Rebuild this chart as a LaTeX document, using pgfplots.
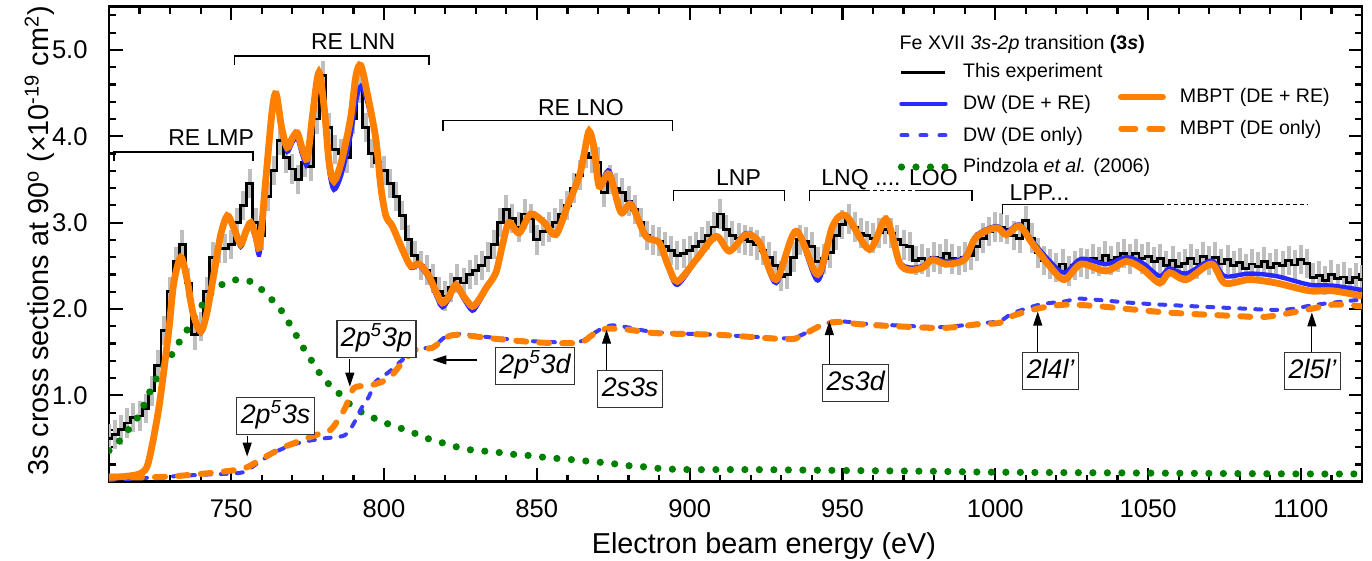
\documentclass[border=0pt]{standalone}
\usepackage{fontspec}
\setmainfont{Liberation Sans}
\usepackage{pgfplots}
\pgfplotsset{compat=1.18}
\usepackage{pgfplotstable}
\usetikzlibrary{arrows.meta}
\definecolor{mborange}{RGB}{255,128,0}
\definecolor{dwblue}{RGB}{40,40,255}
\definecolor{dwdash}{RGB}{60,60,255}
\definecolor{pgreen}{RGB}{0,128,0}
\definecolor{errgray}{RGB}{190,190,190}

\pgfplotstableread{
x y
710 0.50
712 0.55
714 0.60
716 0.68
718 0.74
720 0.76
722 0.85
724 1.05
726 1.35
728 1.75
730 2.20
732 2.55
734 2.75
736 2.30
738 1.70
740 1.80
742 2.20
744 2.60
746 2.70
748 2.70
750 2.75
752 3.00
754 3.20
756 3.45
758 3.00
760 2.85
762 3.30
764 3.60
766 3.95
768 3.75
770 3.62
772 3.50
774 3.70
776 3.65
778 4.20
780 4.70
782 4.10
784 3.85
786 3.80
788 3.75
790 4.20
792 4.55
794 4.10
796 3.80
798 3.70
800 3.60
802 3.45
804 3.30
806 3.08
808 2.80
810 2.62
812 2.50
814 2.45
816 2.35
818 2.20
820 2.15
822 2.25
824 2.35
826 2.30
828 2.40
830 2.45
832 2.50
834 2.60
836 2.75
838 3.00
840 3.15
842 3.05
844 2.95
846 3.10
848 3.05
850 2.80
852 2.90
854 2.95
856 3.00
858 3.10
860 3.20
862 3.40
864 3.55
866 3.80
868 3.75
870 3.70
872 3.35
874 3.50
876 3.40
878 3.35
880 3.25
882 3.15
884 3.00
886 2.85
888 2.80
890 2.78
892 2.72
894 2.68
896 2.62
898 2.64
900 2.68
902 2.72
904 2.78
906 2.85
908 2.95
910 3.10
912 2.92
914 2.85
916 2.82
918 2.80
920 2.78
922 2.74
924 2.68
926 2.60
928 2.50
930 2.38
932 2.40
934 2.60
936 2.80
938 2.78
940 2.72
942 2.55
944 2.58
946 2.65
948 2.85
950 2.98
952 3.04
954 2.95
956 2.88
958 2.85
960 2.82
962 2.88
964 2.92
966 2.88
968 2.80
970 2.74
972 2.72
974 2.56
976 2.58
978 2.54
980 2.60
982 2.58
984 2.64
986 2.58
988 2.56
990 2.60
992 2.62
994 2.72
996 2.82
998 2.90
1000 2.95
1002 2.94
1004 2.92
1006 2.85
1008 2.82
1010 3.02
1012 2.82
1014 2.65
1016 2.56
1018 2.52
1020 2.48
1022 2.52
1024 2.44
1026 2.50
1028 2.54
1030 2.52
1032 2.58
1034 2.55
1036 2.62
1038 2.56
1040 2.60
1042 2.64
1044 2.58
1046 2.64
1048 2.58
1050 2.61
1052 2.55
1054 2.58
1056 2.50
1058 2.56
1060 2.49
1062 2.53
1064 2.58
1066 2.52
1068 2.61
1070 2.56
1072 2.60
1074 2.52
1076 2.57
1078 2.50
1080 2.54
1082 2.47
1084 2.52
1086 2.49
1088 2.55
1090 2.48
1092 2.53
1094 2.50
1096 2.56
1098 2.51
1100 2.57
1102 2.53
1104 2.36
1106 2.39
1108 2.33
1110 2.40
1112 2.35
1114 2.37
1116 2.31
1118 2.36
1120 2.34
}\expdata

\tikzset{
  ann/.style={-{Triangle[length=7pt,width=4.5pt]}, line width=0.6pt, black},
  box/.style={draw=black!80, line width=0.7pt, fill=white, inner xsep=2pt, inner ysep=2.5pt,
    text height=10.5pt, text depth=3pt, font=\fontsize{13.4}{15}\selectfont\itshape},
  reg/.style={font=\fontsize{11.5}{13}\selectfont, inner sep=0pt},
  brk/.style={line width=0.75pt, black}
}

\begin{document}
\begin{tikzpicture}
\begin{axis}[
  at={(0pt,0pt)}, anchor=south west,
  scale only axis, width=626.5pt, height=237.5pt,
  xmin=710, xmax=1120, ymin=0, ymax=5.5,
  xtick={750,800,850,900,950,1000,1050,1100},
  xticklabels={750,800,850,900,950,1000,1050,1100},
  minor xtick={710,720,...,1120},
  ytick={1,2,3,4,5}, yticklabels={1.0,2.0,3.0,4.0,5.0},
  minor ytick={0.2,0.4,0.6,0.8,1.2,1.4,1.6,1.8,2.2,2.4,2.6,2.8,3.2,3.4,3.6,3.8,4.2,4.4,4.6,4.8,5.2,5.4},
  tick align=inside,
  major tick length=6.75pt, minor tick length=3.5pt,
  every tick/.style={line width=1.1pt, black},
  axis line style={line width=1.3pt},
  tick label style={font=\fontsize{12.8}{14}\selectfont},
  xticklabel style={inner sep=0pt, yshift=-8.8pt},
  yticklabel style={inner sep=0pt, xshift=-10.5pt},
  label style={font=\fontsize{14.4}{16}\selectfont},
  xlabel={Electron beam energy (eV)},
  ylabel={3s cross sections at 90\textsuperscript{o} (\texttimes10\textsuperscript{-19} cm\textsuperscript{2})},
  xlabel style={at={(axis description cs:0.5227,-0.1516)}, anchor=base},
  ylabel style={at={(axis description cs:-0.0479,0.507)}, anchor=base},
  legend style={at={(axis cs:968,4.892)}, anchor=north west, draw=none, fill=none, inner sep=0pt,
    font=\fontsize{9.8}{11}\selectfont, row sep=3.2pt, column sep=5pt},
  legend cell align=left,
  legend image code/.code={\draw[#1] (0pt,0pt) -- (22pt,0pt);},
]
% experiment error bars
\addplot[forget plot, draw=none, mark=none,
  error bars/.cd, y dir=both, y fixed=0.17, error mark=none,
  error bar style={draw=errgray, line width=2pt}] table[x=x,y=y] {\expdata};
% experiment
\addplot[forget plot, black, mark=none, line width=1.4pt, const plot mark mid] table[x=x,y=y] {\expdata};
% Pindzola
\addplot[forget plot, pgreen, mark=none, line width=3.6pt, line cap=round, dash pattern=on 0pt off 7.25pt, smooth] coordinates {
(710,0.36) (711.6,0.39) (714,0.5) (717.6,0.66) (720.3,0.80) (724.1,1.10) (726.3,1.24) (729.0,1.39) (731.6,1.53) (734.0,1.68) (736.4,1.80) (738.9,1.96) (741.4,2.09) (744.7,2.23) (749.2,2.32) (753.6,2.34) (757.4,2.30) (761.3,2.18) (764.5,2.06) (767.3,1.94) (769.8,1.78) (772.2,1.64) (774.4,1.50) (777.1,1.36) (779.8,1.21) (783.1,1.09) (786.3,0.99) (789.6,0.87) (794.0,0.78) (797.8,0.72) (802.7,0.65) (807.1,0.60) (811.5,0.54) (815.8,0.48) (820.2,0.44) (825.1,0.39) (830.0,0.36) (834.9,0.35) (839.3,0.33) (844.2,0.31) (848.6,0.30) (853.0,0.28) (860,0.26) (866,0.24) (872.0,0.22) (876.9,0.20) (881.3,0.18) (886.2,0.17) (891.1,0.15) (900.4,0.14) (920,0.14) (950,0.13) (980,0.12) (1000,0.11) (1050,0.10) (1100,0.09) (1120,0.09)};
% DW DE only
\addplot[forget plot, dwdash, mark=none, line width=2pt, line cap=round, dash pattern=on 3pt off 5pt, smooth] coordinates {
(710,0.02) (720,0.04) (730,0.06) (740,0.08) (752.5,0.1) (756,0.15) (760,0.25) (766,0.37) (772.2,0.45) (780,0.5) (785.5,0.52) (788,0.56) (790.5,0.7) (792.9,0.87) (795,0.98) (797.3,1.16) (801.6,1.27) (806,1.41) (810.4,1.53) (815.8,1.56) (820.2,1.68) (824.6,1.71) (837.7,1.66) (851.8,1.62) (863.9,1.62) (868.2,1.71) (874.8,1.81) (889,1.73) (909.7,1.70) (931.5,1.66) (936,1.69) (942.5,1.80) (948,1.86) (956.6,1.83) (967.6,1.81) (982.8,1.79) (993.7,1.83) (1001.4,1.86) (1005.7,1.95) (1014.5,2.05) (1023.2,2.09) (1027.6,2.12) (1045,2.07) (1060,2.04) (1077.8,2.01) (1094.1,1.99) (1105.1,2.05) (1120,2.11)};
% MBPT DE only
\addplot[forget plot, mborange, mark=none, line width=3pt, line cap=round, dash pattern=on 5pt off 6.5pt, smooth] coordinates {
(710,0.06) (720,0.05) (730,0.06) (740,0.09) (748.2,0.12) (754.7,0.16) (760.2,0.27) (766.7,0.39) (772.2,0.47) (777.6,0.54) (782.5,0.6) (785.5,0.75) (787.5,0.87) (789.5,1.05) (791,1.1) (796.2,1.12) (801.6,1.2) (806,1.38) (810.4,1.53) (815.8,1.55) (820.2,1.67) (824.6,1.7) (837.7,1.65) (851.8,1.61) (863.9,1.61) (868.2,1.7) (872.6,1.77) (880,1.76) (889,1.72) (909.7,1.7) (931.5,1.65) (936,1.68) (942.5,1.8) (948,1.85) (956.6,1.82) (967.6,1.8) (982.8,1.78) (993.7,1.82) (1001.4,1.84) (1005.7,1.92) (1014.5,2.01) (1023.2,2.05) (1034.2,2.03) (1055.9,1.96) (1077.8,1.92) (1088.7,1.91) (1101.8,1.99) (1110.5,2.05) (1120,2.03)};
% DW DE+RE
\addplot[forget plot, dwblue, mark=none, line width=2.2pt, smooth] coordinates {
(710,0.05) (715,0.06) (719,0.08) (721,0.11) (722.5,0.18) (724,0.4) (726.3,0.85) (728,1.3) (729.6,1.76) (731.2,2.3) (733.5,2.6) (735.5,2.35) (737.5,1.95) (740,1.72) (742,1.93) (744.3,2.38) (746.5,2.83) (748.7,3.06) (750.7,2.93) (753.1,2.72) (754.8,2.87) (756.4,2.97) (758,2.8) (759.3,2.65) (761.3,3.45) (763.4,4.28) (764.7,4.47) (766.5,4.05) (768.3,3.82) (770,3.93) (771.6,3.98) (773.3,3.78) (774.9,3.68) (776.8,4.22) (778.7,4.68) (780.5,4.25) (782,3.62) (783.6,3.38) (786,3.55) (789,4.0) (790.8,4.4) (792.4,4.58) (794.5,4.4) (797.3,3.95) (799,3.4) (800.6,3.06) (802.7,2.94) (806,2.67) (808.7,2.48) (811.5,2.5) (814.7,2.35) (817,2.16) (819.1,2.02) (821.3,2.12) (823.5,2.26) (826,2.12) (828.9,1.98) (831.1,2.08) (833.5,2.23) (836.6,2.42) (838.8,2.75) (840.9,3.0) (844.2,2.88) (848,3.1) (852.4,3.0) (856.2,2.86) (860,3.19) (863.9,3.54) (865.5,3.8) (867.1,4.02) (868.8,3.85) (870.4,3.45) (873.7,3.6) (877.5,3.14) (880.8,3.23) (885.7,2.86) (890,2.77) (893,2.48) (896,2.28) (902.1,2.56) (908.6,2.84) (913,2.67) (918.4,2.88) (922.8,2.77) (928.3,2.3) (934.8,2.9) (941.9,2.33) (946.8,2.94) (951.2,3.08) (958.8,2.69) (964.3,3.04) (968.6,2.56) (972,2.48) (976.3,2.5) (979.5,2.59) (983.9,2.55) (989.9,2.6) (993.7,2.85) (1000.3,2.96) (1003.6,2.89) (1007.9,2.98) (1012.3,2.78) (1017.7,2.56) (1022.6,2.42) (1028.1,2.58) (1036.3,2.52) (1042.9,2.6) (1048.3,2.53) (1053.8,2.38) (1057,2.47) (1062.5,2.41) (1070.7,2.56) (1075.1,2.38) (1083.2,2.41) (1092,2.38) (1102.9,2.28) (1110.5,2.27) (1120,2.22)};
% MBPT DE+RE
\addplot[forget plot, mborange, mark=none, line width=3.4pt, smooth] coordinates {
(710,0.05) (715,0.06) (719,0.08) (721,0.11) (722.5,0.18) (724,0.4) (726.3,0.85) (728,1.3) (729.6,1.76) (731.2,2.3) (733.5,2.6) (735.5,2.35) (737.5,1.95) (740,1.74) (742,1.95) (744.3,2.4) (746.5,2.85) (748.7,3.08) (750.7,2.95) (753.1,2.75) (754.8,2.9) (756.4,3.0) (758,2.85) (759.3,2.73) (761.3,3.5) (763.4,4.3) (764.7,4.49) (766.5,4.1) (768.3,3.87) (770,3.98) (771.6,4.04) (773.3,3.85) (774.9,3.75) (776.8,4.3) (778.7,4.74) (780.5,4.3) (782,3.7) (783.6,3.48) (786,3.7) (789,4.2) (790.8,4.7) (792.4,4.82) (794.5,4.5) (797.3,3.97) (799,3.4) (800.6,3.08) (802.7,2.96) (806,2.69) (808.7,2.5) (811.5,2.52) (814.7,2.38) (817,2.2) (819.1,2.07) (821.3,2.15) (823.5,2.28) (826,2.15) (828.9,2.03) (831.1,2.11) (833.5,2.25) (836.6,2.42) (838.8,2.75) (840.9,3.0) (844.2,2.88) (848,3.1) (852.4,3.0) (856.2,2.86) (860,3.19) (863.9,3.54) (865.5,3.8) (867.1,4.06) (868.8,3.85) (870.4,3.42) (873.7,3.56) (877.5,3.12) (880.8,3.21) (885.7,2.84) (890,2.77) (893,2.5) (896,2.32) (902.1,2.57) (908.6,2.84) (913,2.67) (918.4,2.86) (922.8,2.77) (928.3,2.34) (934.8,2.9) (941.9,2.4) (946.8,2.96) (951.2,3.08) (958.8,2.69) (964.3,3.04) (968.6,2.54) (972,2.45) (976.3,2.48) (979.5,2.57) (983.9,2.52) (989.9,2.57) (993.7,2.83) (1000.3,2.94) (1003.6,2.86) (1007.9,2.96) (1012.3,2.75) (1017.7,2.5) (1022.6,2.34) (1028.1,2.52) (1036.3,2.44) (1042.9,2.55) (1048.3,2.46) (1053.8,2.3) (1057,2.42) (1062.5,2.34) (1070.7,2.52) (1075.1,2.3) (1083.2,2.34) (1092,2.3) (1102.9,2.21) (1110.5,2.21) (1120,2.15)};

% legend (column 1)
\addlegendimage{black, line width=1.4pt}
\addlegendentry{This experiment}
\addlegendimage{dwblue, line width=2.2pt, line cap=round}
\addlegendentry{DW (DE + RE)}
\addlegendimage{dwdash, line width=2pt, line cap=round, dash pattern=on 3pt off 6.5pt}
\addlegendentry{DW (DE only)}
\addlegendimage{pgreen, line width=3.6pt, line cap=round, dash pattern=on 0pt off 7.25pt}
\addlegendentry{Pindzola \textit{et al.} (2006)}

\node[anchor=west, inner sep=0pt, font=\fontsize{9.8}{11}\selectfont] at (axis cs:968.6,5.067)
  {Fe XVII \textit{3s-2p} transition \textbf{(3\textit{s})}};

% region brackets
\draw[brk] (axis cs:711.6,3.71) -- (axis cs:711.6,3.82) -- (axis cs:757.1,3.82) -- (axis cs:757.1,3.71);
\node[reg] at (axis cs:743.4,3.985) {RE LMP};
\draw[brk] (axis cs:751.1,4.83) -- (axis cs:751.1,4.93) -- (axis cs:814.7,4.93) -- (axis cs:814.7,4.83);
\node[reg] at (axis cs:789.9,5.096) {RE LNN};
\draw[brk] (axis cs:819.3,4.06) -- (axis cs:819.3,4.18) -- (axis cs:894.4,4.18) -- (axis cs:894.4,4.06);
\node[reg] at (axis cs:864.4,4.336) {RE LNO};
\draw[brk] (axis cs:894.7,3.25) -- (axis cs:894.7,3.37) -- (axis cs:931.0,3.37) -- (axis cs:931.0,3.25);
\node[reg] at (axis cs:916.0,3.52) {LNP};
\draw[brk] (axis cs:939.2,3.25) -- (axis cs:939.2,3.37) -- (axis cs:957.7,3.37);
\draw[brk, dash pattern=on 2pt off 1.5pt] (axis cs:957.7,3.37) -- (axis cs:975.2,3.37);
\draw[brk] (axis cs:975.2,3.37) -- (axis cs:992.4,3.37) -- (axis cs:992.4,3.25);
\node[reg] at (axis cs:965.4,3.50) {LNQ .... LOO};
\draw[brk] (axis cs:1002.3,3.10) -- (axis cs:1002.3,3.21) -- (axis cs:1053.8,3.21);
\draw[brk, dash pattern=on 2pt off 1.5pt] (axis cs:1053.8,3.21) -- (axis cs:1102.2,3.21);
\node[reg, anchor=west] at (axis cs:1004.6,3.35) {LPP...};

% arrows + boxes
\draw[ann] (axis cs:755.2,0.53) -- (axis cs:755.2,0.29);
\node[box] at (axis cs:764.5,0.76) {2p\textsuperscript{5}3s};
\draw[ann] (axis cs:788.8,1.42) -- (axis cs:788.8,1.10);
\node[box] at (axis cs:797.5,1.65) {2p\textsuperscript{5}3p};
\draw[ann] (axis cs:830.5,1.41) -- (axis cs:815.8,1.41);
\node[box] at (axis cs:849.4,1.34) {2p\textsuperscript{5}3d};
\draw[ann] (axis cs:872.8,1.28) -- (axis cs:872.8,1.76);
\node[box] at (axis cs:880.5,1.07) {2s3s};
\draw[ann] (axis cs:945.7,1.36) -- (axis cs:945.7,1.86);
\node[box] at (axis cs:954.3,1.14) {2s3d};
\draw[ann] (axis cs:1013.9,1.5) -- (axis cs:1013.9,1.97);
\node[box] at (axis cs:1018.1,1.28) {2l4l'};
\draw[ann] (axis cs:1103.6,1.5) -- (axis cs:1103.6,1.96);
\node[box] at (axis cs:1103.8,1.28) {2l5l'};
\end{axis}

% second legend column
\begin{axis}[
  at={(0pt,0pt)}, anchor=south west,
  scale only axis, width=626.5pt, height=237.5pt,
  xmin=710, xmax=1120, ymin=0, ymax=5.5, hide axis,
  legend style={at={(axis cs:1040,4.605)}, anchor=north west, draw=none, fill=none, inner sep=0pt,
    font=\fontsize{9.8}{11}\selectfont, row sep=3.2pt, column sep=5pt},
  legend cell align=left,
  legend image code/.code={\draw[#1] (0pt,0pt) -- (20.6pt,0pt);},
]
\addlegendimage{mborange, line width=3.4pt, line cap=round}
\addlegendentry{MBPT (DE + RE)}
\addlegendimage{mborange, line width=3pt, line cap=round, dash pattern=on 7pt off 7pt}
\addlegendentry{MBPT (DE only)}
\end{axis}
\pgfresetboundingbox
\useasboundingbox (-54.5pt,-39.5pt) rectangle (631.5pt,240.85pt);
\end{tikzpicture}
\end{document}
